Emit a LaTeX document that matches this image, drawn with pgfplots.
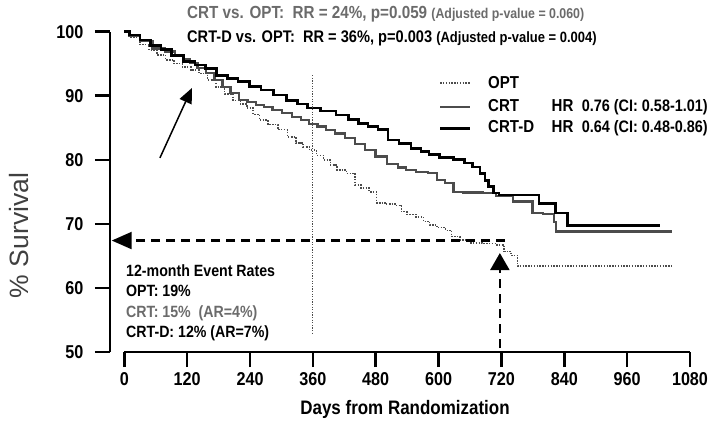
\documentclass[border=0pt]{standalone}
\usepackage{fontspec}
\setmainfont{Liberation Sans}
\newfontfamily\cf{Liberation Sans}[FakeStretch=0.87]
\usepackage{pgfplots}
\pgfplotsset{compat=1.18}
\usetikzlibrary{arrows.meta}
\newcommand\fs[1]{\fontsize{#1}{#1}\selectfont}
\definecolor{crtc}{gray}{0.30}
\definecolor{optc}{gray}{0.30}
\definecolor{txtgrey}{gray}{0.42}
\begin{document}
\begin{tikzpicture}
\begin{axis}[
  scale only axis, width=565.7pt, height=320.3pt,
  xmin=0, xmax=1080, ymin=50, ymax=100,
  axis lines=left,
  axis line style={-, line width=2.6pt, black},
  axis y line shift=14.3pt,
  xtick={0,120,...,1080}, ytick={50,60,...,100},
  tick align=outside, major tick length=15pt,
  tick style={line width=2.6pt, black},
  tick label style={font=\cf\bfseries\fs{18.6}},
  /pgf/number format/assume math mode=true,
  /pgf/number format/1000 sep={},
  xticklabel style={yshift=-2pt},
  yticklabel style={xshift=-8pt},
  clip=false,
]
% OPT
\addplot[const plot mark mid, optc, line width=1.5pt, dash pattern=on 1.4pt off 1.4pt] coordinates {
(0,100) (20,99.2) (40,98.0) (55,97.1) (70,96.4) (87,95.6) (103,95.0) (119,94.5) (135,94.0)
(150,93.5) (167,92.5) (183,91.4) (200,90.3) (215,89.3) (228,88.7) (240,88.1) (252,87.1)
(265,86.2) (284,85.5) (303,84.7) (320,83.6) (335,82.6) (348,82.0) (360,81.5) (374,80.7)
(387,80.0) (400,79.2) (412,78.4) (437,77.9) (444,76.1) (460,75.6) (475,75.0) (488,73.3)
(507,73.1) (526,72.9) (532,71.9) (548,71.5) (565,71.1) (577,70.4) (589,69.8) (605,69.4)
(622,69.0) (628,68.0) (654,67.5) (666,67.0) (700,66.9) (723,66.7) (727,65.7) (749,65.1)
(752,63.4) (1045,63.4)};
% CRT
\addplot[const plot mark mid, crtc, line width=2.3pt] coordinates {
(0,100) (20,99.4) (40,98.6) (68,97.4) (87,96.9) (106,96.4) (120,95.7) (132,95.1) (148,94.3)
(164,93.5) (180,92.5) (195,91.4) (211,90.4) (227,89.3) (243,89.0) (259,88.6) (275,88.2)
(291,87.8) (310,87.3) (329,86.7) (345,86.2) (361,85.6) (377,85.2) (393,84.7) (412,84.1)
(431,83.4) (450,82.5) (469,81.5) (490,80.5) (514,79.3) (530,78.8) (545,78.4) (570,78.1)
(590,77.9) (603,76.9) (622,76.4) (635,75.0) (660,74.9) (708,74.8) (711,74.4) (740,74.4)
(743,73.5) (778,73.5) (781,71.7) (819,71.5) (822,70.3) (827,68.8) (1045,68.8)};
% CRT-D
\addplot[const plot mark mid, black, line width=2.7pt] coordinates {
(0,100) (20,99.5) (40,98.7) (60,97.9) (80,97.2) (100,96.3) (125,95.3) (145,94.8) (164,94.3)
(188,93.2) (207,92.7) (227,92.2) (250,91.5) (272,90.9) (297,90.1) (322,89.3) (340,88.7)
(360,88.1) (390,87.6) (418,87.0) (437,86.3) (456,85.7) (475,85.2) (494,84.7) (513,83.1)
(536,82.5) (559,81.8) (574,81.3) (589,80.8) (615,80.4) (641,80.0) (657,79.5) (673,78.9)
(685,77.9) (692,76.8) (698,75.8) (711,74.8) (720,74.5) (790,74.5) (794,73.2) (822,73.2)
(824,71.7) (845,71.7) (846,69.7) (1023,69.7)};
% reference lines and arrows
\addplot[optc, line width=1pt, dash pattern=on 1.2pt off 1.4pt] coordinates {(360,93.2) (360,52.97)};
\addplot[black, line width=2.2pt, dash pattern=on 9pt off 6pt, -{Triangle[length=20pt,width=17pt]}] coordinates {(727,67.4) (-24,67.4)};
\addplot[black, line width=2.2pt, dash pattern=on 9pt off 6pt, -{Triangle[length=17pt,width=19pt]}] coordinates {(717,50.6) (717,65.45)};
\addplot[black, line width=1.5pt, -{Triangle[length=15pt,width=13pt]}] coordinates {(68,80.3) (129,91.2)};
% legend samples
\addplot[optc, line width=1.5pt, dash pattern=on 1.4pt off 1.4pt] coordinates {(603,92.0) (660,92.0)};
\addplot[crtc, line width=2.3pt] coordinates {(603,88.29) (660,88.29)};
\addplot[black, line width=2.7pt] coordinates {(603,84.92) (660,84.92)};
% texts
\node[anchor=base west, inner sep=0, text=txtgrey] at (axis cs:119.7,102.09) {\cf\bfseries\fs{17.5}CRT vs. OPT:\ \ RR = 24\%, p=0.059 {\fs{14.2}(Adjusted p-value = 0.060)}};
\node[anchor=base west, inner sep=0] at (axis cs:119.7,98.28) {\cf\bfseries\fs{16.8}CRT-D vs. OPT:\ \ RR = 36\%, p=0.003 {\fs{14.9}(Adjusted p-value = 0.004)}};
\node[anchor=base west, inner sep=0] at (axis cs:694.3,91.07) {\cf\bfseries\fs{17.3}OPT};
\node[anchor=base west, inner sep=0] at (axis cs:694.3,87.62) {\cf\bfseries\fs{17.3}CRT};
\node[anchor=base west, inner sep=0] at (axis cs:694.3,84.19) {\cf\bfseries\fs{17.3}CRT-D};
\node[anchor=base west, inner sep=0] at (axis cs:815.5,87.62) {\cf\bfseries\fs{17.3}HR\ \ \fs{16.6}0.76 (CI: 0.58-1.01)};
\node[anchor=base west, inner sep=0] at (axis cs:815.5,84.19) {\cf\bfseries\fs{17.3}HR\ \ \fs{16.6}0.64 (CI: 0.48-0.86)};
\node[anchor=base west, inner sep=0] at (axis cs:3.2,61.71) {\cf\bfseries\fs{16.3}12-month Event Rates};
\node[anchor=base west, inner sep=0] at (axis cs:3.2,58.59) {\cf\bfseries\fs{16.3}OPT: 19\%};
\node[anchor=base west, inner sep=0, text=txtgrey] at (axis cs:3.2,55.46) {\cf\bfseries\fs{16.3}CRT: 15\%\ \ (AR=4\%)};
\node[anchor=base west, inner sep=0] at (axis cs:3.2,52.34) {\cf\bfseries\fs{16.3}CRT-D: 12\% (AR=7\%)};
\node[anchor=base, inner sep=0] at (axis cs:535.9,40.17) {\cf\bfseries\fs{19.5}Days from Randomization};
\node[rotate=90, anchor=center, inner sep=0, text=black!75] at (axis cs:-201.6,68.2) {\fs{26.5}\% Survival};
\coordinate (BL) at (axis cs:-237.3,38.6);
\coordinate (TR) at (axis cs:1120.1,104.95);
\end{axis}
\pgfresetboundingbox
\path[use as bounding box] (BL) rectangle (TR);
\end{tikzpicture}
\end{document}
